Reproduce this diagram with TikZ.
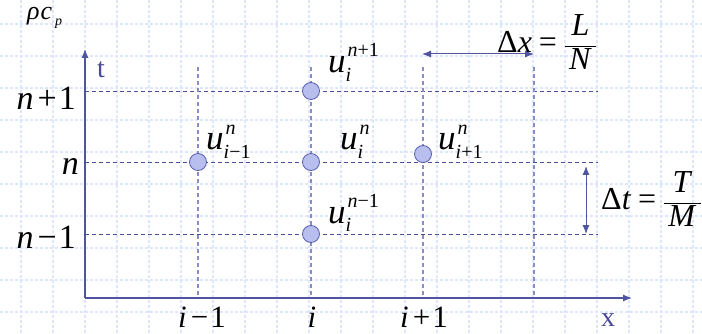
\documentclass[tikz,border=0pt]{standalone}
\usepackage{fontspec}
\setmainfont{Liberation Serif}
\usetikzlibrary{arrows.meta}
\definecolor{axiscol}{RGB}{80,84,160}
\definecolor{hdashcol}{RGB}{74,78,160}
\definecolor{vdashcol}{RGB}{138,140,200}
\definecolor{gridcol}{RGB}{222,230,250}
\definecolor{dotfill}{RGB}{184,190,238}
\definecolor{dotdraw}{RGB}{88,96,176}
\definecolor{lblcol}{RGB}{74,74,152}
% u with superscript and subscript
\newcommand{\scr}{\fontsize{20}{20}\selectfont}
\newcommand{\ulab}[2]{\textit{u}\rlap{\hspace{2pt}\raisebox{16pt}{\scr #1}}\raisebox{-9pt}{\scr #2}}
\newcommand{\mn}{\kern4pt−\kern2pt}
\newcommand{\pl}{\kern4pt+\kern2pt}
\newcommand{\padded}[1]{\mbox{\kern4pt\textit{#1}\kern4pt}}
\tikzset{
  gridline/.style={draw=gridcol,line width=1.4pt,dash pattern=on 3pt off 2pt},
  axisline/.style={draw=axiscol,line width=1.2pt,-{Latex[length=9pt,width=7pt]}},
  hdash/.style={draw=hdashcol,line width=0.9pt,dash pattern=on 4pt off 3pt},
  vdash/.style={draw=vdashcol,line width=1.1pt,dash pattern=on 4pt off 3pt},
  dot/.style={circle,fill=dotfill,draw=dotdraw,line width=0.8pt,minimum size=17pt,inner sep=0pt},
  dimarrow/.style={draw=axiscol,line width=1pt,{Latex[length=9pt,width=7pt]}-{Latex[length=9pt,width=7pt]}},
  ulabel/.style={inner sep=0pt,anchor=base west,font=\fontsize{35}{40}\selectfont},
  nlabel/.style={inner sep=0pt,anchor=base east,font=\fontsize{34}{40}\selectfont},
  ilabel/.style={inner sep=0pt,anchor=base,text depth=0pt,font=\fontsize{31}{36}\selectfont},
  axlabel/.style={inner sep=0pt,anchor=base,text=lblcol,font=\fontsize{28}{34}\selectfont},
  eqlabel/.style={inner sep=0pt,anchor=west,font=\fontsize{32}{38}\selectfont}
}
\begin{document}
\begin{tikzpicture}[x=1pt,y=-1pt]
\useasboundingbox (0,0) rectangle (702,334);
% background grid
\foreach \gx in {21,53,...,693} \draw[gridline] (\gx,0) -- (\gx,334);
\foreach \gy in {24,56,...,312} \draw[gridline] (0,\gy) -- (702,\gy);
% coordinates
\coordinate (O) at (85,298);
\coordinate (ytip) at (85,49);
\coordinate (xtip) at (632,298);
\coordinate (h1a) at (85,91);  \coordinate (h1b) at (598,91);
\coordinate (h2a) at (85,162); \coordinate (h2b) at (598,162);
\coordinate (h3a) at (85,234); \coordinate (h3b) at (598,234);
\coordinate (v1a) at (198,67); \coordinate (v1b) at (198,298);
\coordinate (v2a) at (311,67); \coordinate (v2b) at (311,298);
\coordinate (v3a) at (423,67); \coordinate (v3b) at (423,298);
\coordinate (v4a) at (534,67); \coordinate (v4b) at (534,298);
\coordinate (dxl) at (422,54); \coordinate (dxr) at (534,54);
\coordinate (dtt) at (586,166); \coordinate (dtb) at (586,234);
% dashed grid lines
\draw[hdash] (h1a) -- (h1b);
\draw[hdash] (h2a) -- (h2b);
\draw[hdash] (h3a) -- (h3b);
\draw[vdash] (v1a) -- (v1b);
\draw[vdash] (v2a) -- (v2b);
\draw[vdash] (v3a) -- (v3b);
\draw[vdash] (v4a) -- (v4b);
% axes
\draw[axisline] (O) -- (ytip);
\draw[axisline] (O) -- (xtip);
% dimension arrows
\draw[dimarrow] (dxl) -- (dxr);
\draw[dimarrow] (dtt) -- (dtb);
% points
\node[dot] (pup) at (311,91) {};
\node[dot] (pl) at (198,162) {};
\node[dot] (pc) at (311,162) {};
\node[dot] (pr) at (423,154) {};
\node[dot] (pdn) at (311,234) {};
% point labels
\node[ulabel] (lup) at (328,73) {\ulab{\textit{n}+1}{\textit{i}}};
\node[ulabel] (ll) at (206,150) {\ulab{\textit{n}}{\textit{i}−1}};
\node[ulabel] (lc) at (340,150) {\ulab{\textit{n}}{\textit{i}}};
\node[ulabel] (lr) at (438,150) {\ulab{\textit{n}}{\textit{i}+1}};
\node[ulabel] (ldn) at (328,223) {\ulab{\textit{n}−1}{\textit{i}}};
% axis tick labels
\node[nlabel] (n1) at (76,110) {\textit{n}\pl1};
\node[nlabel] (n2) at (79,175) {\textit{n}};
\node[nlabel] (n3) at (76,248) {\textit{n}\mn1};
\node[ilabel] (i1) at (202,327) {\textit{i}\mn1};
\node[ilabel] (i2) at (312,327) {\textit{i}};
\node[ilabel] (i3) at (424,327) {\textit{i}\pl1};
\node[axlabel] (tl) at (101,78) {t};
\node[axlabel] (xl) at (608,326) {x};
% equations
\node[inner sep=0pt,anchor=base west,font=\fontsize{26}{28}\selectfont] (rho) at (27,20) {\textit{ρ\kern1pt c}\kern3pt\raisebox{-6pt}{\fontsize{14}{14}\selectfont\textit{p}}};
\node[eqlabel] (dx) at (497,42) {$\mbox{Δ\textit{x}}\mathrel{\mbox{=}}\displaystyle\frac{\padded{L}}{\padded{N}}$};
\node[eqlabel] (dt) at (601,199) {$\mbox{Δ\textit{t}}\mathrel{\mbox{=}}\displaystyle\frac{\padded{T}}{\padded{M}}$};
\end{tikzpicture}
\end{document}
